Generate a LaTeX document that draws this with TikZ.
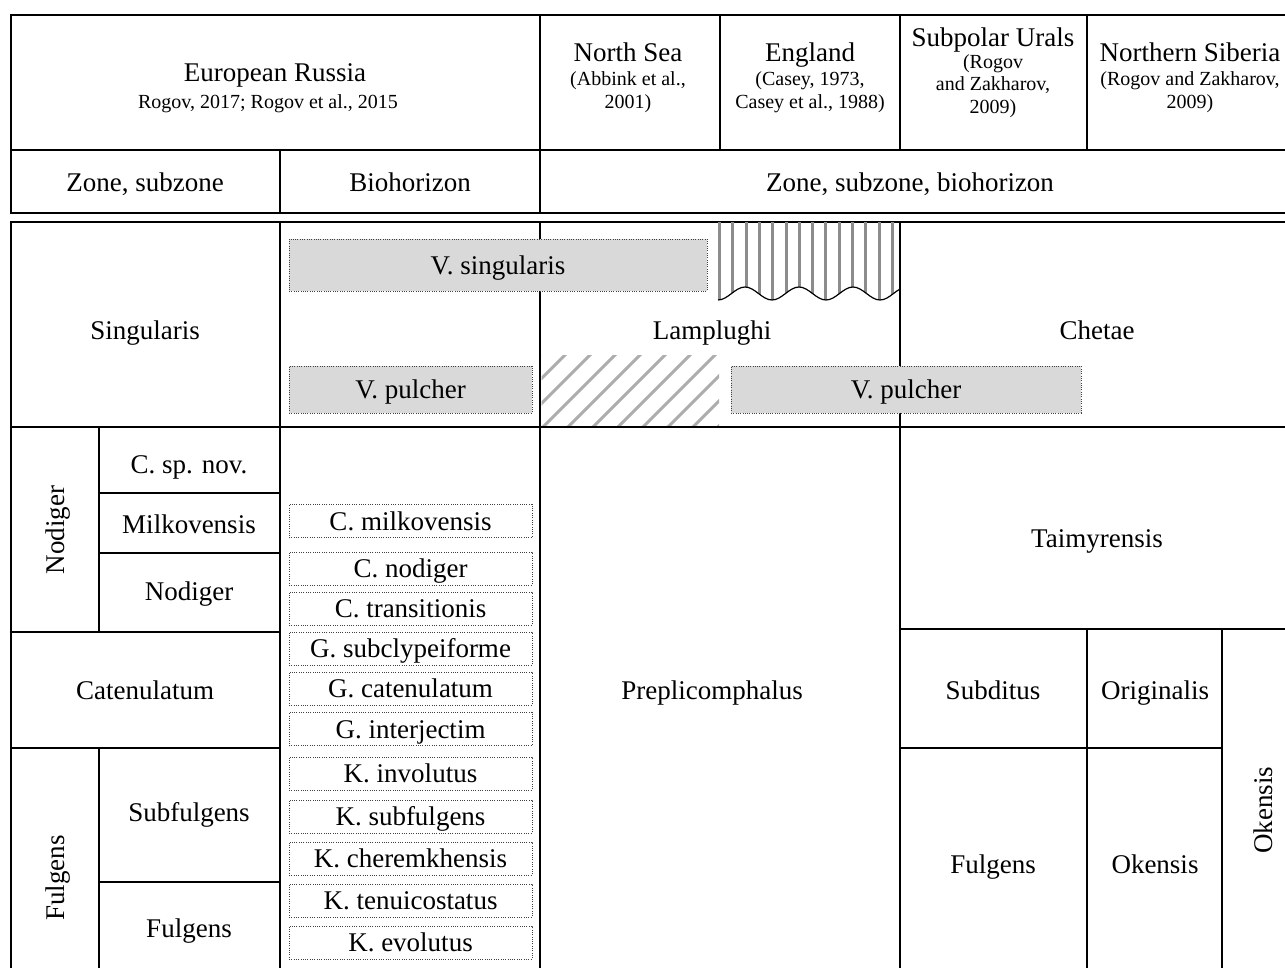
\documentclass[tikz,border=0pt]{standalone}
\usepackage{fontspec}
\setmainfont{Liberation Serif}
\begin{document}
\begin{tikzpicture}[x=1pt,y=-1pt,
  main/.style={font=\fontsize{27}{32}\selectfont, inner sep=0pt, text height=24.3pt, text depth=5.7pt},
  sml/.style={font=\fontsize{20}{24}\selectfont, inner sep=0pt, text height=18pt, text depth=4.2pt},
  rule/.style={line width=2.5pt, line cap=rect},
  dotbox/.style={draw=black!75, line width=1pt, dash pattern=on 1pt off 1.3pt,
     inner sep=0pt, font=\fontsize{27}{32}\selectfont, text height=24.3pt, text depth=5.7pt},
  graybox/.style={dotbox, fill=black!15},
  biobox/.style={dotbox, fill=white, minimum width=243pt, minimum height=33pt},
  hatch/.style={draw=black!32, line width=3pt},
  vstripe/.style={draw=black!45, line width=3pt}]
\useasboundingbox (0,0) rectangle (1285,967);
\clip (0,0) rectangle (1285,967);

% ---------- grid ----------
\draw[rule] (11,15) -- (1300,15);
\draw[rule] (11,150) -- (1300,150);
\draw[rule] (11,213) -- (1300,213);
\draw[rule] (11,222) -- (1300,222);
\draw[rule] (11,15) -- (11,213);
\draw[rule] (540,15) -- (540,213);
\draw[rule] (720,15) -- (720,150);
\draw[rule] (900,15) -- (900,150);
\draw[rule] (1087,15) -- (1087,150);
\draw[rule] (280,150) -- (280,213);
% body
\draw[rule] (11,222) -- (11,980);
\draw[rule] (280,222) -- (280,980);
\draw[rule] (540,222) -- (540,980);
\draw[rule] (900,222) -- (900,980);
\draw[rule] (11,427) -- (1300,427);
\draw[rule] (99,427) -- (99,632);
\draw[rule] (99,493) -- (280,493);
\draw[rule] (99,553) -- (280,553);
\draw[rule] (11,632) -- (280,632);
\draw[rule] (11,748) -- (280,748);
\draw[rule] (99,748) -- (99,980);
\draw[rule] (99,882) -- (280,882);
\draw[rule] (900,629) -- (1300,629);
\draw[rule] (900,748) -- (1222,748);
\draw[rule] (1087,629) -- (1087,980);
\draw[rule] (1222,629) -- (1222,980);

% ---------- vertical stripes with wavy bottom ----------
\begin{scope}
  \clip (718,222) -- (718,300) cos (731.5,293.5) sin (745,287) cos (758.5,293.5) sin (772,300)
        cos (785.5,293.5) sin (799,287) cos (812.5,293.5) sin (826,300)
        cos (839.5,293.5) sin (853,287) cos (866.5,293.5) sin (880,300)
        cos (893.5,293.5) sin (907,287) -- (907,222) -- cycle;
  \foreach \i in {0,...,13} \draw[vstripe] (719.5+13.3*\i,215) -- (719.5+13.3*\i,310);
\end{scope}
\begin{scope}
  \clip (700,222) rectangle (899,320);
  \draw[line width=1.2pt] (718,300) cos (731.5,293.5) sin (745,287) cos (758.5,293.5) sin (772,300)
        cos (785.5,293.5) sin (799,287) cos (812.5,293.5) sin (826,300)
        cos (839.5,293.5) sin (853,287) cos (866.5,293.5) sin (880,300)
        cos (893.5,293.5) sin (907,287);
\end{scope}

% ---------- diagonal hatch ----------
\begin{scope}
  \clip (541.5,355) rectangle (719,425.5);
  \foreach \x in {440,465,...,740} \draw[hatch] (\x,430) -- ++(80,-80);
\end{scope}

% ---------- header texts ----------
\node[main] (er) at (275,72) {European Russia};
\node[sml] (erref) at (268,102) {Rogov, 2017; Rogov et al., 2015};
\node[main] (ns) at (628,52) {North Sea};
\node[sml] (ns1) at (628,79) {(Abbink et al.,};
\node[sml] (ns2) at (628,102) {2001)};
\node[main] (en) at (810,52) {England};
\node[sml] (en1) at (810,79) {(Casey, 1973,};
\node[sml] (en2) at (810,102) {Casey et al., 1988)};
\node[main] (su) at (993,37) {Subpolar Urals};
\node[sml] (su1) at (993,62) {(Rogov};
\node[sml] (su2) at (993,84) {and Zakharov,};
\node[sml] (su3) at (993,107) {2009)};
\node[main] (nsib) at (1190,52) {Northern Siberia};
\node[sml] (nsib1) at (1190,79) {(Rogov and Zakharov,};
\node[sml] (nsib2) at (1190,102) {2009)};
\node[main] (zs) at (145,182) {Zone, subzone};
\node[main] (bh) at (410,182) {Biohorizon};
\node[main] (zsb) at (910,182) {Zone, subzone, biohorizon};

% ---------- body texts ----------
\node[main] (sing) at (145,330) {Singularis};
\node[graybox, minimum width=418pt, minimum height=52pt] (vsing) at (498,265) {V. singularis};
\node[graybox, minimum width=243pt, minimum height=47pt] (vpul1) at (410.5,389.5) {V. pulcher};
\node[graybox, minimum width=350pt, minimum height=47pt] (vpul2) at (906,389.5) {V. pulcher};
\node[main] (lamp) at (712,330) {Lamplughi};
\node[main] (chet) at (1097,330) {Chetae};

\node[main, rotate=90] (nodz) at (55,530) {Nodiger};
\node[main] (csp) at (189,464) {C. sp. nov.};
\node[main] (milk) at (189,524) {Milkovensis};
\node[main] (nods) at (189,591) {Nodiger};
\node[main] (cat) at (145,690) {Catenulatum};
\node[main, rotate=90] (fulz) at (55,878) {Fulgens};
\node[main] (subf) at (189,812) {Subfulgens};
\node[main] (fuls) at (189,928) {Fulgens};

\node[biobox] (b1) at (410.5,521) {C. milkovensis};
\node[biobox] (b2) at (410.5,568.5) {C. nodiger};
\node[biobox] (b3) at (410.5,608.5) {C. transitionis};
\node[biobox] (b4) at (410.5,648.5) {G. subclypeiforme};
\node[biobox] (b5) at (410.5,688.5) {G. catenulatum};
\node[biobox] (b6) at (410.5,729) {G. interjectim};
\node[biobox] (b7) at (410.5,773.5) {K. involutus};
\node[biobox] (b8) at (410.5,816.5) {K. subfulgens};
\node[biobox] (b9) at (410.5,858.5) {K. cheremkhensis};
\node[biobox] (b10) at (410.5,900.5) {K. tenuicostatus};
\node[biobox] (b11) at (410.5,942.5) {K. evolutus};

\node[main] (prep) at (712,690) {Preplicomphalus};
\node[main] (taim) at (1097,538) {Taimyrensis};
\node[main] (subd) at (993,690) {Subditus};
\node[main] (orig) at (1155,690) {Originalis};
\node[main] (fulr) at (993,864) {Fulgens};
\node[main] (okr) at (1155,864) {Okensis};
\node[main, rotate=90] (okz) at (1263,810) {Okensis};
\end{tikzpicture}
\end{document}
